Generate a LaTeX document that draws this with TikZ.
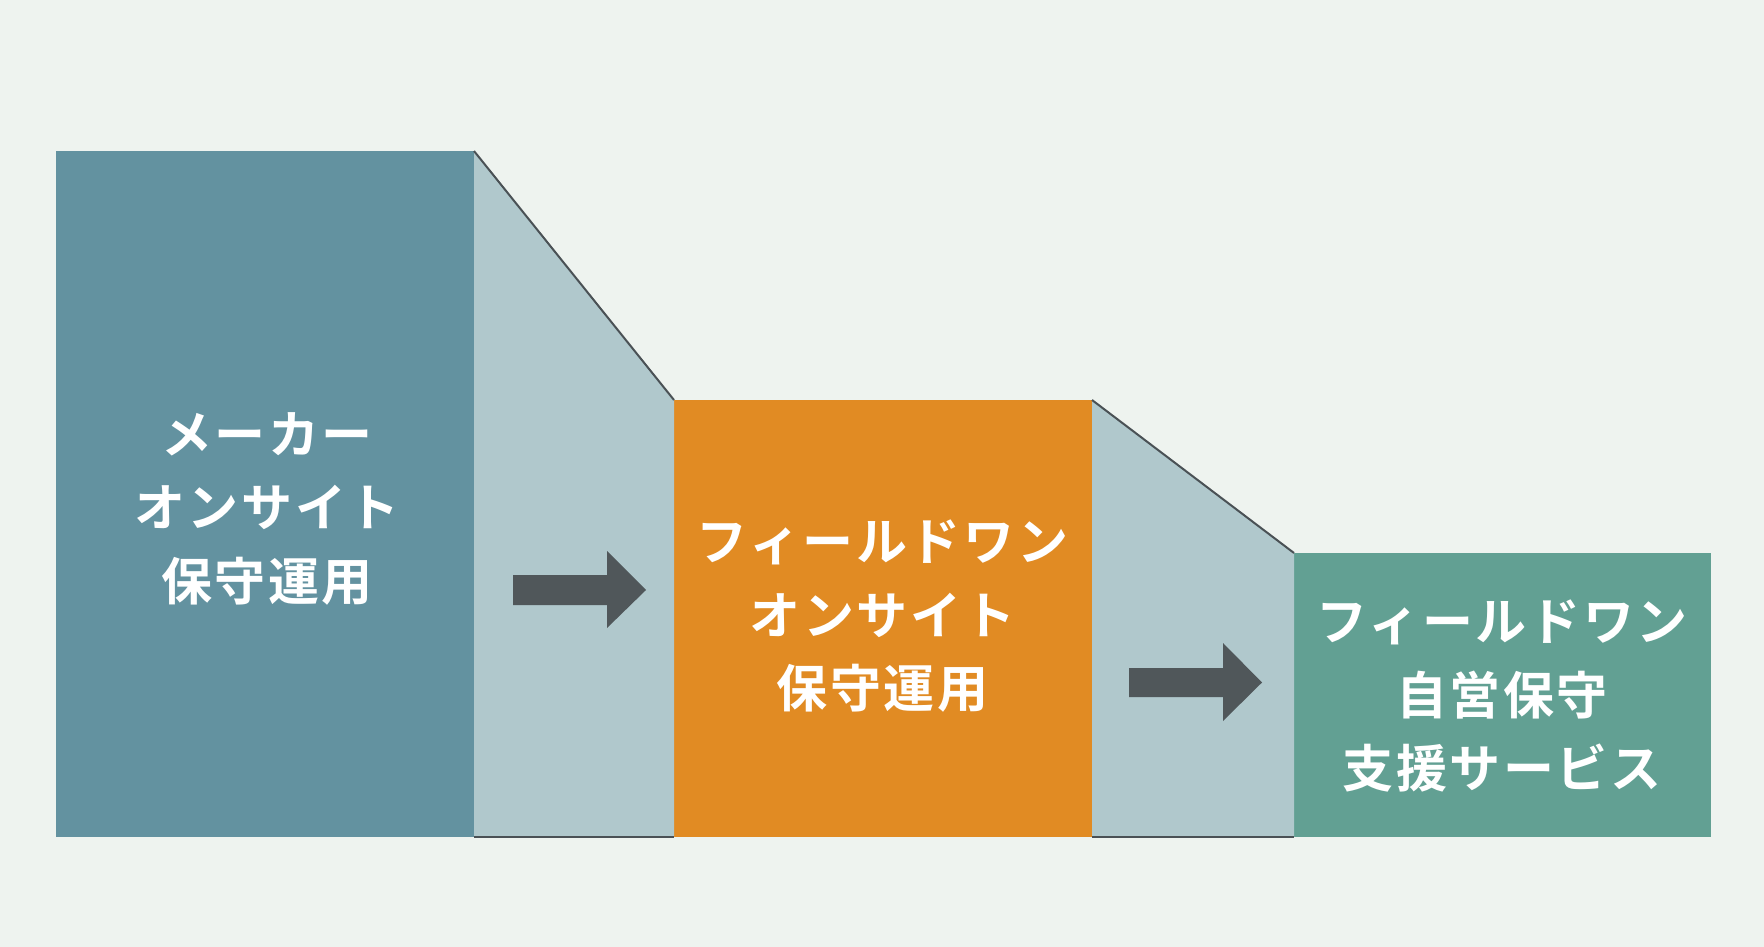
\documentclass[tikz,border=0pt]{standalone}
\usepackage{fontspec}
\newfontfamily\jp{Noto Sans CJK JP}[BoldFont={Noto Sans CJK JP Bold},LetterSpace=5]
\definecolor{bg}{HTML}{EEF3EF}
\definecolor{cblue}{HTML}{6392A0}
\definecolor{ctrap}{HTML}{B0C8CC}
\definecolor{corange}{HTML}{E18B23}
\definecolor{cgreen}{HTML}{62A093}
\definecolor{carrow}{HTML}{50575A}
\definecolor{cline}{HTML}{4A5155}
\tikzset{
  box/.style={draw=none,inner sep=0pt,outer sep=0pt,anchor=north west},
  trap/.style={fill=ctrap},
  edge/.style={draw=cline,line width=2pt},
  flow/.style={fill=carrow},
  lbl/.style={text=white,inner sep=0pt,align=center,font=\jp\bfseries\fontsize{51}{73.5}\selectfont}
}
\begin{document}
\begin{tikzpicture}[x=1pt,y=-1pt]
\useasboundingbox (0,0) rectangle (1764,947);
\fill[bg] (0,0) rectangle (1764,947);
% stage boxes
\node[box,fill=cblue,minimum width=418pt,minimum height=686pt] (b1) at (56,151) {};
\node[box,fill=corange,minimum width=418pt,minimum height=437pt] (b2) at (674,400) {};
\node[box,fill=cgreen,minimum width=417pt,minimum height=284pt] (b3) at (1294,553) {};
% trapezoids
\fill[trap] (b1.north east) -- (b2.north west) -- (b2.south west) -- (b1.south east |- b2.south west) -- cycle;
\draw[edge] (b1.north east) -- (b2.north west);
\draw[edge] (b1.south east |- b2.south west) -- (b2.south west);
\fill[trap] (b2.north east) -- (b3.north west) -- (b3.south west) -- (b2.south east) -- cycle;
\draw[edge] (b2.north east) -- (b3.north west);
\draw[edge] (b2.south east) -- (b3.south west);
% arrows
\coordinate (a1) at (513,590);
\coordinate (a2) at (1129,682.5);
\fill[flow] (a1) ++(0,-15) -- ++(94,0) -- ++(0,-24) -- (646,590) -- (607,628) -- (607,605) -- (513,605) -- cycle;
\fill[flow] (a2) ++(0,-14.5) -- ++(94,0) -- ++(0,-25) -- (1262,682.5) -- (1223,721) -- (1223,697) -- (1129,697) -- cycle;
% labels
\node[lbl] (t1) at (267,508.5) {メーカー\\オンサイト\\保守運用};
\node[lbl] (t2) at (882.5,616.5) {フィールドワン\\オンサイト\\保守運用};
\node[lbl] (t3) at (1502,696) {フィールドワン\\自営保守\\支援サービス};
\end{tikzpicture}
\end{document}
